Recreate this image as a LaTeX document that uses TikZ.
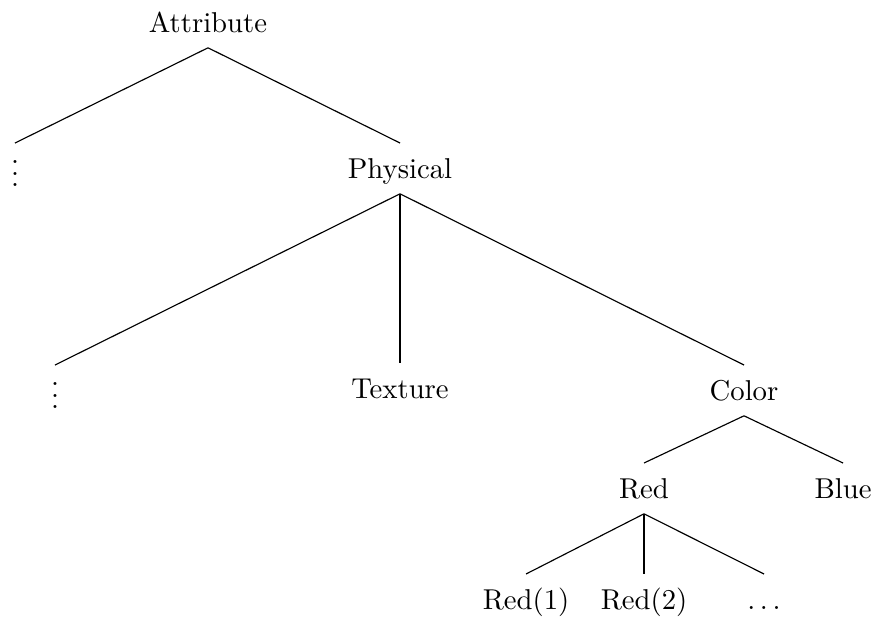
\documentclass[tikz,border=0pt]{standalone}
\begin{document}
\begin{tikzpicture}[x=0.3484pt,y=-0.3484pt,
  lbl/.style={inner xsep=0pt, inner ysep=2.7pt, text height=9.3pt, text depth=2.6pt, anchor=base},
  dotsn/.style={inner sep=0pt, anchor=north},
  edge/.style={line width=0.4pt}]
\useasboundingbox (0,0) rectangle (875,619);
\node[lbl] (attr) at (208,32) {Attribute};
\node[dotsn] (v1) at (15,143) {$\vdots$};
\node[lbl] (phys) at (400,178) {Physical};
\node[dotsn] (v2) at (55,365) {$\vdots$};
\node[lbl] (tex) at (400,398) {Texture};
\node[lbl] (col) at (744,400) {Color};
\node[lbl] (red) at (644,498) {Red};
\node[lbl] (blue) at (843,498) {Blue};
\node[lbl] (r1) at (526,609) {Red(1)};
\node[lbl] (r2) at (644,609) {Red(2)};
\node[lbl] (rd) at (764,609) {$\ldots$};
\draw[edge] (attr.south) -- (v1.north);
\draw[edge] (attr.south) -- (phys.north);
\draw[edge] (phys.south) -- (v2.north);
\draw[edge] (phys.south) -- (tex.north);
\draw[edge] (phys.south) -- (col.north);
\draw[edge] (col.south) -- (red.north);
\draw[edge] (col.south) -- (blue.north);
\draw[edge] (red.south) -- (r1.north);
\draw[edge] (red.south) -- (r2.north);
\draw[edge] (red.south) -- (rd.north);
\end{tikzpicture}
\end{document}
